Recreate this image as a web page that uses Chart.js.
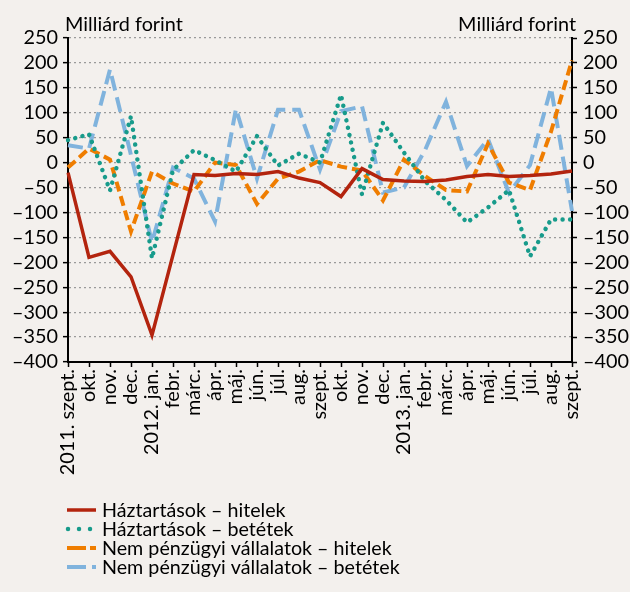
<!DOCTYPE html>
<html><head><meta charset="utf-8">
<script src="https://cdn.jsdelivr.net/npm/chart.js@4.4.1/dist/chart.umd.min.js"></script>
<style>html,body{margin:0;padding:0;background:#f3f0ed;}canvas{display:block;}</style>
</head><body>
<canvas id="c" width="630" height="592"></canvas>
<script>
const categories = ['2011. szept.', 'okt.', 'nov.', 'dec.', '2012. jan.', 'febr.', 'márc.', 'ápr.', 'máj.', 'jún.', 'júl.', 'aug.', 'szept.', 'okt.', 'nov.', 'dec.', '2013. jan.', 'febr.', 'márc.', 'ápr.', 'máj.', 'jún.', 'júl.', 'aug.', 'szept.'];
const hhLoans = [-20, -190, -178, -229, -346, -185, -24, -26, -22, -24, -18, -31, -40, -68, -12, -34, -37, -38, -35, -28, -24, -28, -26, -23, -17];
const hhDeposits = [45, 57, -56, 93, -192, -15, 25, 5, -18, 53, -6, 18, 0, 136, -64, 80, 20, -37, -75, -120, -90, -55, -188, -114, -114];
const corpLoans = [-10, 28, 6, -138, -18, -42, -58, 0, -5, -83, -32, -18, 5, -8, -16, -76, 6, -27, -55, -58, 38, -40, -55, 62, 205];
const corpDeposits = [35, 28, 187, 15, -160, -10, -32, -118, 108, -32, 106, 106, -14, 103, 113, -60, -50, 25, 122, -7, 47, -61, -5, 150, -97];
const seriesNames = ['Háztartások – hitelek', 'Háztartások – betétek', 'Nem pénzügyi vállalatok – hitelek', 'Nem pénzügyi vállalatok – betétek'];
const axisTitle = 'Milliárd forint';
const yMin = -400, yMax = 250, yStep = 50;

const FONT = 'Lato';
function fitSize(text, target) {
  const c = document.createElement('canvas').getContext('2d');
  c.font = '100px ' + FONT;
  return 100 * target / c.measureText(text).width;
}
const fs = fitSize(axisTitle, 118);
const fsLeg = fitSize(seriesNames[3], 298);

const legendDash = [[], [0.01, 11], [19, 4], [19, 6]];

const extras = {
  id: 'extras',
  afterDraw(chart) {
    const ctx = chart.ctx;
    ctx.save();
    ctx.fillStyle = '#000';
    ctx.font = fs + 'px ' + FONT;
    ctx.textBaseline = 'alphabetic';
    ctx.textAlign = 'left';
    ctx.fillText(axisTitle, 65, 31);
    ctx.textAlign = 'right';
    ctx.fillText(axisTitle, 576, 31);
    ctx.font = fsLeg + 'px ' + FONT;
    chart.data.datasets.forEach((ds, i) => {
      const y = 510 + i * 19;
      ctx.beginPath();
      ctx.strokeStyle = ds.borderColor;
      ctx.lineWidth = ds.borderWidth;
      ctx.setLineDash(legendDash[i]);
      ctx.lineCap = ds.borderCapStyle || 'butt';
      ctx.moveTo(i === 1 ? 68 : 67, y);
      ctx.lineTo(96, y);
      ctx.stroke();
      ctx.setLineDash([]);
      ctx.textAlign = 'left';
      ctx.textBaseline = 'middle';
      ctx.fillText(ds.label, 102, y + 1);
    });
    ctx.restore();
  }
};

const tickFmt = v => (v < 0 ? '\u2013' + Math.abs(v) : String(v));
const tickFont = {family: FONT, size: fs};

new Chart(document.getElementById('c'), {
  type: 'line',
  data: {
    labels: categories,
    datasets: [
      {label: seriesNames[0], data: hhLoans, borderColor: '#b3240e', borderWidth: 3.5, pointRadius: 0, tension: 0},
      {label: seriesNames[1], data: hhDeposits, borderColor: '#179b8b', borderWidth: 4.5, borderDash: [0.01, 7.5], borderCapStyle: 'round', pointRadius: 0, tension: 0},
      {label: seriesNames[2], data: corpLoans, borderColor: '#ef7d00', borderWidth: 4, borderDash: [10, 5], pointRadius: 0, tension: 0},
      {label: seriesNames[3], data: corpDeposits, borderColor: '#80b3dd', borderWidth: 4, borderDash: [15, 7], pointRadius: 0, tension: 0}
    ]
  },
  options: {
    responsive: false,
    animation: false,
    layout: {padding: {top: 38, bottom: 0, left: 0, right: 0}},
    plugins: {legend: {display: false}, tooltip: {enabled: false}},
    scales: {
      x: {
        grid: {drawOnChartArea: false, drawTicks: true, tickLength: 5, tickColor: '#000', tickWidth: 1.5},
        border: {color: '#000', width: 2},
        ticks: {autoSkip: false, maxRotation: 90, minRotation: 90, padding: 2, color: '#000', font: tickFont},
        afterFit(s) { s.height = 230; }
      },
      y: {
        position: 'left', min: yMin, max: yMax,
        ticks: {stepSize: yStep, autoSkip: false, color: '#000', font: tickFont, padding: 5, callback: tickFmt},
        grid: {color: '#9a9a9a', lineWidth: 1.3, tickColor: '#000', tickLength: 5, tickWidth: 1.5},
        border: {color: '#000', width: 2, dash: [2, 3]},
        afterFit(s) { s.width = 68; }
      },
      y2: {
        position: 'right', min: yMin, max: yMax,
        ticks: {stepSize: yStep, autoSkip: false, color: '#000', font: tickFont, padding: 6, callback: tickFmt},
        grid: {drawOnChartArea: false, tickColor: '#000', tickLength: 5, tickWidth: 1.5},
        border: {color: '#000', width: 2},
        afterFit(s) { s.width = 58; }
      }
    }
  },
  plugins: [extras]
});
</script>
</body></html>
